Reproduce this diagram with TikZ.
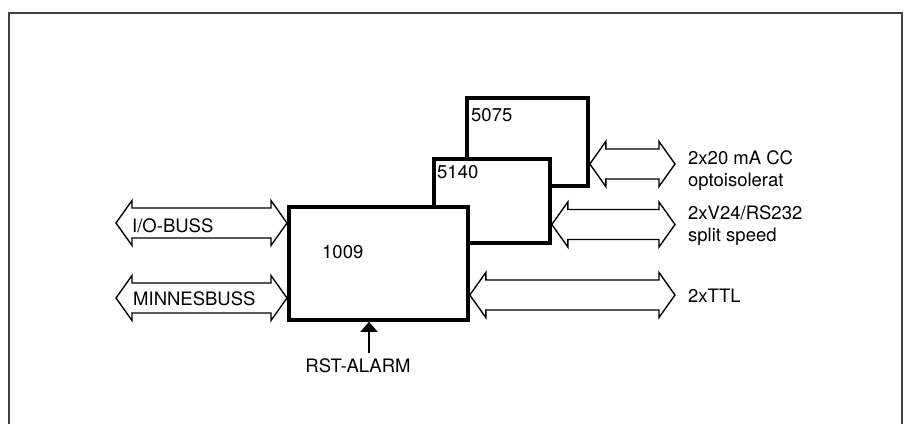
\documentclass[tikz,border=0pt]{standalone}
\usepackage{fontspec}
\setmainfont{TeX Gyre Heros}
\usetikzlibrary{calc,arrows.meta}
\newcommand\dblarrow[2]{%
  \draw[busarrow] (#1) -- ($(#1)+(\ah,-\aH)$) -- ($(#1)+(\ah,-\as)$)
    -- ($(#2)+(-\ah,-\as)$) -- ($(#2)+(-\ah,-\aH)$) -- (#2)
    -- ($(#2)+(-\ah,\aH)$) -- ($(#2)+(-\ah,\as)$)
    -- ($(#1)+(\ah,\as)$) -- ($(#1)+(\ah,\aH)$) -- cycle;}
\def\ah{16}\def\aH{22.5}\def\as{15}
\begin{document}
\begin{tikzpicture}[x=1pt,y=-1pt,
  box/.style={draw=black,fill=white,line width=3.8pt,rectangle,inner sep=0pt,anchor=north west},
  busarrow/.style={draw=black,line width=1.4pt,line join=miter},
  lbl/.style={inner sep=0pt,anchor=base west,font=\fontsize{18.5}{22}\selectfont}]
\useasboundingbox (0,0) rectangle (912,423);
% frame
\draw[line width=2pt,color=black!75] (9,424) -- (9,13) -- (902,13) -- (902,424);
% boxes
\node[box,minimum width=121pt,minimum height=88pt] (b5075) at (465,96) {};
\node[box,minimum width=116pt,minimum height=84pt] (b5140) at (432,157) {};
\node[box,minimum width=179pt,minimum height=113pt] (b1009) at (287,205) {};
\node[lbl] (t5075) at (471,121) {5075};
\node[lbl] (t5140) at (437,178) {5140};
\node[lbl] (t1009) at (322,258) {1009};
% bus arrow rows
\coordinate (yIO) at (0,223);
\coordinate (yMB) at (0,298);
\coordinate (yCC) at (0,164);
\coordinate (yV) at (0,224.5);
\coordinate (yT) at (0,295);
\coordinate (io-l) at (116,223);
\coordinate (mb-l) at (116,298);
\coordinate (io-r) at (b1009.west |- yIO);
\coordinate (mb-r) at (b1009.west |- yMB);
\coordinate (cc-l) at (b5075.east |- yCC);
\coordinate (v-l) at (b5140.east |- yV);
\coordinate (t-l) at (b1009.east |- yT);
\coordinate (cc-r) at (675,164);
\coordinate (v-r) at (675,224.5);
\coordinate (t-r) at (675,295);
\dblarrow{io-l}{io-r}
\dblarrow{mb-l}{mb-r}
\dblarrow{cc-l}{cc-r}
\dblarrow{v-l}{v-r}
\dblarrow{t-l}{t-r}
% labels
\node[lbl] (lio) at (132,232) {I/O-BUSS};
\node[lbl] (lmb) at (133,305) {MINNESBUSS};
\node[lbl] (lcc1) at (688,164) {2x20 mA CC};
\node[lbl] (lcc2) at (688,186) {optoisolerat};
\node[lbl] (lv1) at (688,219) {2xV24/RS232};
\node[lbl] (lv2) at (688,241) {split speed};
\node[lbl] (lt) at (688,302) {2xTTL};
% reset
\node[lbl,anchor=base] (rst) at (358,372) {RST-ALARM};
\coordinate (rst-tail) at (369,353);
\draw[line width=1.4pt,-{Triangle[width=17pt,length=10pt]}] (rst-tail) -- (b1009.south -| rst-tail);
\end{tikzpicture}
\end{document}
